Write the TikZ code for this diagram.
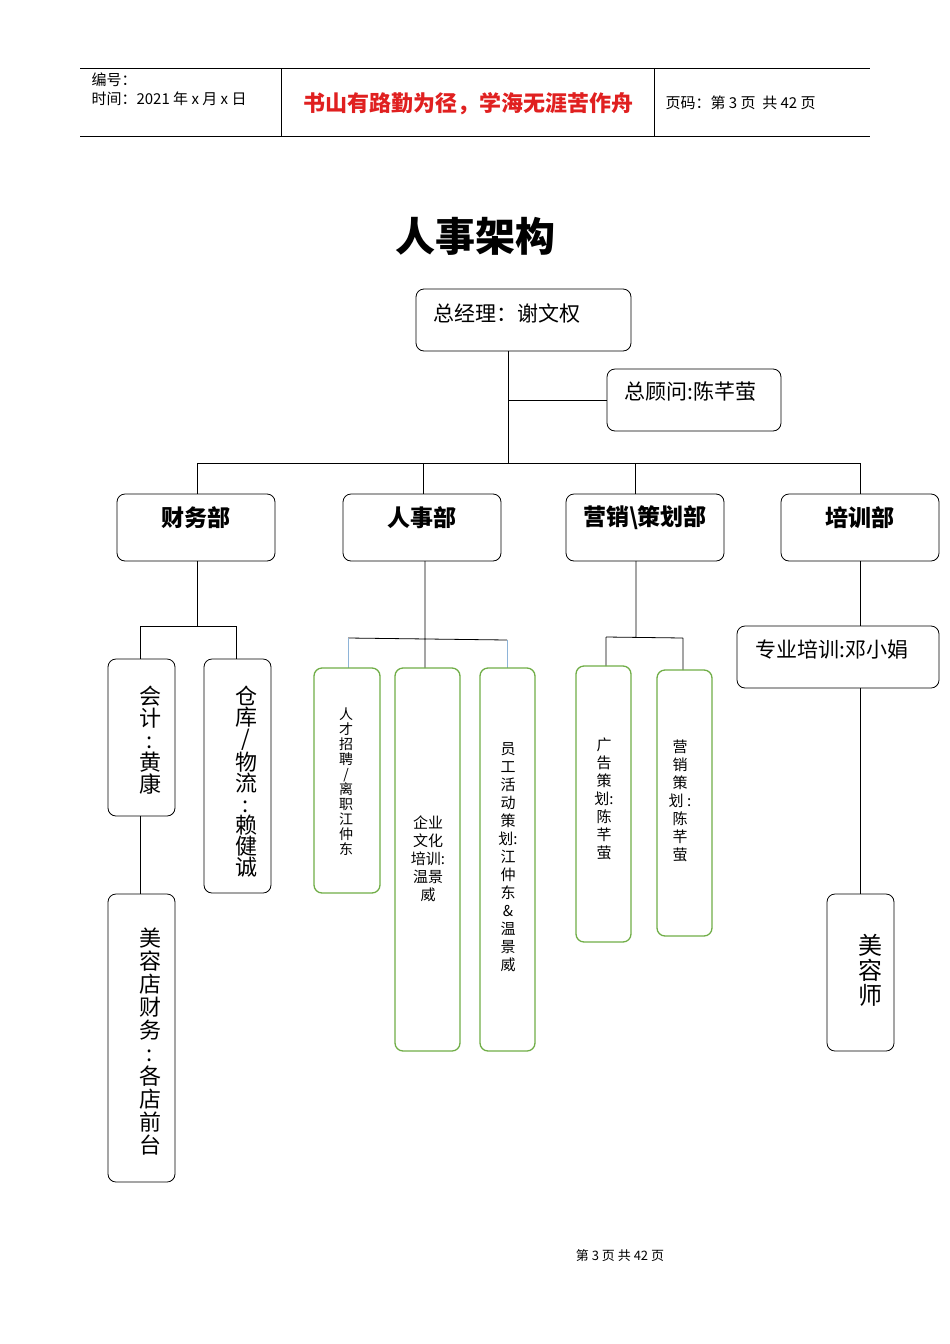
\documentclass[tikz,border=0pt]{standalone}
\usepackage{fontspec}
\setmainfont{Noto Sans CJK SC}
\definecolor{grn}{HTML}{70AD47}
\definecolor{hred}{HTML}{E02020}
\definecolor{lblue}{HTML}{8EB4D8}
\begin{document}
\begin{tikzpicture}[x=1pt,y=-1pt,
  box/.style={draw=black,line width=0.8pt,rounded corners=8pt},
  gbox/.style={draw=grn,line width=1.3pt,rounded corners=8pt},
  ln/.style={draw=black,line width=0.8pt},
  vt/.style={align=center,inner sep=0pt,anchor=north},
]
\useasboundingbox (0,0) rectangle (950,1344);
% header
\draw[line width=0.6pt] (80,68)--(870,68) (80,136)--(870,136) (281,68)--(281,136) (654,68)--(654,136);
\node[anchor=west,font=\fontsize{15}{16}\selectfont] (h1) at (88,80) {编号：};
\node[anchor=west,font=\fontsize{15}{16}\selectfont] (h2) at (88,99) {时间：2021 年 x 月 x 日};
\node[font=\bfseries\fontsize{22}{24}\selectfont,text=hred] (h3) at (468,104) {书山有路勤为径，学海无涯苦作舟};
\node[anchor=west,font=\fontsize{15}{16}\selectfont] (h4) at (662,103) {页码：第 3 页\ \ 共 42 页};
\node[font=\bfseries\fontsize{40}{44}\selectfont] (title) at (475,236) {人事架构};
% top
\draw[box] (416,289) rectangle (631,351);
\node[anchor=west,font=\fontsize{21}{24}\selectfont] (gm) at (430,313) {总经理：谢文权};
\draw[box] (607,369) rectangle (781,431);
\node[anchor=west,font=\fontsize{21}{24}\selectfont] (gw) at (621,392) {总顾问:陈芊萤};
\coordinate (g1) at (508,351); \coordinate (g2) at (508,463);
\draw[ln] (g1)--(g2) (508,400)--(607,400);
\draw[ln] (197,463)--(860,463) (197,463)--(197,494) (423,463)--(423,494) (635,463)--(635,494) (860,463)--(860,494);
% departments
\foreach \a/\b/\t in {117/275/财务部,343/501/人事部,566/724/营销\textbackslash 策划部,781/939/培训部}{
  \draw[box] (\a,494) rectangle (\b,561);
  \node[font=\bfseries\fontsize{23}{26}\selectfont] at ({(\a+\b)/2},518) {\t};
}
% finance
\draw[ln] (197,561)--(197,626) (140,626)--(236,626) (140,626)--(140,659) (236,626)--(236,659);
\draw[box] (108,659) rectangle (175,816);
\node[vt,font=\fontsize{22}{22}\selectfont] (kj) at (150,686) {会\\计\\:\\黄\\康};
\draw[box] (204,659) rectangle (271,893);
\node[vt,font=\fontsize{22}{21}\selectfont] (ck) at (246,686) {仓\\库\\/\\物\\流\\:\\赖\\健\\诚};
\draw[ln] (140,816)--(140,894);
\draw[box] (108,894) rectangle (175,1182);
\node[vt,font=\fontsize{22}{23}\selectfont] (mr) at (150,928) {美\\容\\店\\财\\务\\:\\各\\店\\前\\台};
% HR
\draw[ln] (425,561)--(425,668) (348,638)--(507,640);
\draw[lblue,line width=0.8pt] (348,638)--(348,668) (507,640)--(507,668);
\draw[gbox] (314,668) rectangle (380,893);
\node[vt,font=\fontsize{14}{15}\selectfont] (rc) at (346,708) {人\\才\\招\\聘\\/\\离\\职\\江\\仲\\东};
\draw[gbox] (395,668) rectangle (460,1051);
\node[vt,font=\fontsize{15}{18}\selectfont] (qy) at (428,816) {企业\\文化\\培训:\\温景\\威};
\draw[gbox] (480,668) rectangle (535,1051);
\node[vt,font=\fontsize{15}{18}\selectfont] (yg) at (508,742) {员\\工\\活\\动\\策\\划:\\江\\仲\\东\\\&\\温\\景\\威};
% marketing
\draw[ln] (636,561)--(636,637) (606,637)--(683,638) (606,637)--(606,666) (683,638)--(683,670);
\draw[gbox] (576,666) rectangle (631,942);
\node[vt,font=\fontsize{15}{18}\selectfont] (gg) at (604,738) {广\\告\\策\\ 划:\\陈\\芊\\萤};
\draw[gbox] (657,670) rectangle (712,936);
\node[vt,font=\fontsize{15}{18}\selectfont] (yx) at (680,740) {营\\销\\策\\划\ :\\陈\\芊\\萤};
% training
\draw[ln] (860,561)--(860,626);
\draw[box] (737,626) rectangle (939,688);
\node[font=\fontsize{21}{24}\selectfont] (zy) at (832,649) {专业培训:邓小娟};
\draw[ln] (860,688)--(860,894);
\draw[box] (827,894) rectangle (894,1051);
\node[vt,font=\fontsize{24}{25}\selectfont] (mrs) at (870,934) {美\\容\\师};
\node[font=\fontsize{13}{15}\selectfont] (ft) at (620,1256) {第 3 页 共 42 页};
\end{tikzpicture}
\end{document}
